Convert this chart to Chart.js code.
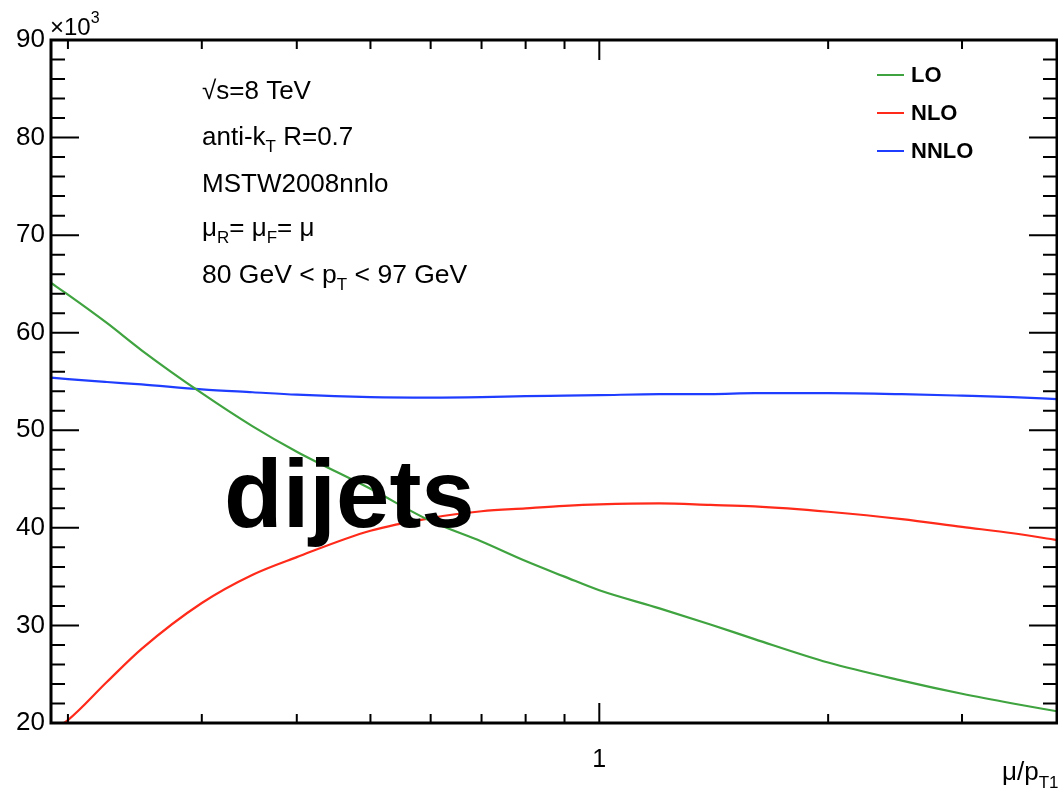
<!DOCTYPE html>
<html>
<head>
<meta charset="utf-8">
<script src="https://cdn.jsdelivr.net/npm/chart.js@4.4.1/dist/chart.umd.min.js"></script>
<style>
  html, body { margin: 0; padding: 0; background: #fff; }
  #wrap { width: 1058px; height: 790px; }
</style>
</head>
<body>
<div id="wrap"><canvas id="scaleChart"></canvas></div>
<script>
// mu / pT1 sample points (log axis)
const muValues   = [0.19, 0.2, 0.225, 0.25, 0.3, 0.35, 0.4, 0.5, 0.6, 0.7, 0.8, 0.9, 1.0, 1.2, 1.4, 1.6, 2.0, 2.5, 3.0, 3.5, 4.0];
// cross sections, in units of 10^3
const loValues   = [65.1, 63.9, 61.0, 58.2, 53.8, 50.4, 47.8, 44.0, 40.7, 38.6, 36.6, 35.0, 33.6, 31.75, 30.1, 28.6, 26.2, 24.35, 23.0, 22.0, 21.2];
const nloValues  = [19.2, 20.3, 24.2, 27.6, 32.3, 35.2, 37.0, 39.7, 41.0, 41.7, 42.0, 42.25, 42.4, 42.5, 42.35, 42.2, 41.65, 40.9, 40.1, 39.45, 38.75];
const nnloValues = [55.4, 55.25, 54.95, 54.7, 54.2, 53.9, 53.65, 53.4, 53.35, 53.4, 53.5, 53.55, 53.6, 53.7, 53.7, 53.8, 53.8, 53.7, 53.55, 53.4, 53.2];

const seriesNames  = ['LO', 'NLO', 'NNLO'];
const seriesColors = ['#3fa33f', '#ff2a1a', '#1f3dff'];

const xTickValues = [0.2, 0.3, 0.4, 0.5, 0.6, 0.7, 0.8, 0.9, 1, 2, 3];
const yMin = 20, yMax = 90;

const FONT = "'Liberation Sans', Arial, Helvetica, sans-serif";

const toPoints = vals => muValues.map((m, i) => ({ x: m, y: vals[i] }));

// draws a line of text made of runs: [text, size, baseline shift]
function drawRuns(ctx, x, y, runs, weight) {
    runs.forEach(([txt, size, dy]) => {
        ctx.font = (weight || '') + ' ' + size + 'px ' + FONT;
        ctx.fillText(txt, x, y + (dy || 0));
        x += ctx.measureText(txt).width;
    });
}

const rootFrame = {
    id: 'rootFrame',
    afterDatasetsDraw(chart) {
        const { ctx, chartArea: a, scales: { x, y } } = chart;
        ctx.save();
        ctx.strokeStyle = '#000';
        ctx.lineWidth = 2;
        ctx.beginPath();
        y.ticks.forEach(t => {
            const py = y.getPixelForValue(t.value);
            const len = t.value % 10 === 0 ? 28 : 14;
            ctx.moveTo(a.left, py); ctx.lineTo(a.left + len, py);
            ctx.moveTo(a.right, py); ctx.lineTo(a.right - len, py);
        });
        x.ticks.forEach(t => {
            const px = x.getPixelForValue(t.value);
            const len = t.value === 1 ? 20 : 9;
            ctx.moveTo(px, a.bottom); ctx.lineTo(px, a.bottom - len);
            ctx.moveTo(px, a.top); ctx.lineTo(px, a.top + len);
        });
        ctx.stroke();
        ctx.lineWidth = 3;
        ctx.strokeRect(a.left, a.top, a.right - a.left, a.bottom - a.top);

        ctx.fillStyle = '#000';
        ctx.textBaseline = 'alphabetic';
        ctx.textAlign = 'left';

        // exponent
        drawRuns(ctx, 50, 35, [['\u00d710', 24, 0], ['3', 16, -12]]);

        // info text
        const tx = 202;
        drawRuns(ctx, tx, 99,  [['\u221as=8 TeV', 26, 0]]);
        drawRuns(ctx, tx, 145, [['anti-k', 26, 0], ['T', 17, 7], [' R=0.7', 26, 0]]);
        drawRuns(ctx, tx, 192, [['MSTW2008nnlo', 26, 0]]);
        drawRuns(ctx, tx, 236, [['\u03bc', 26, 0], ['R', 17, 7], ['= \u03bc', 26, 0], ['F', 17, 7], ['= \u03bc', 26, 0]]);
        drawRuns(ctx, tx, 283, [['80 GeV < p', 26.5, 0], ['T', 17, 7], [' < 97 GeV', 26.5, 0]]);

        // legend
        const legY = [75, 113, 151];
        chart.data.datasets.forEach((ds, i) => {
            ctx.strokeStyle = ds.borderColor;
            ctx.lineWidth = 2;
            ctx.beginPath();
            ctx.moveTo(877, legY[i]); ctx.lineTo(904, legY[i]);
            ctx.stroke();
            ctx.textBaseline = 'middle';
            drawRuns(ctx, 911, legY[i] + 1, [[ds.label, 22, 0]], 'bold');
        });

        // axis title
        ctx.textBaseline = 'alphabetic';
        drawRuns(ctx, 1002, 780, [['\u03bc/p', 26, 0], ['T1', 17, 8]]);

        // big label
        drawRuns(ctx, 224, 527, [['dijets', 96, 0]], 'bold');
        ctx.restore();
    }
};

new Chart(document.getElementById('scaleChart'), {
    type: 'line',
    data: {
        datasets: [loValues, nloValues, nnloValues].map((vals, i) => ({
            label: seriesNames[i],
            data: toPoints(vals),
            borderColor: seriesColors[i],
            borderWidth: 2.2,
            pointRadius: 0,
            cubicInterpolationMode: 'monotone',
            fill: false
        }))
    },
    options: {
        responsive: true,
        maintainAspectRatio: false,
        animation: false,
        layout: { padding: { left: 0, right: 1, top: 40, bottom: 0 } },
        plugins: { legend: { display: false }, tooltip: { enabled: false } },
        scales: {
            x: {
                type: 'logarithmic',
                min: 0.19,
                max: 4,
                grid: { display: false, drawTicks: false },
                border: { display: false },
                afterBuildTicks: s => { s.ticks = xTickValues.map(v => ({ value: v })); },
                afterFit: s => { s.height = 67; },
                ticks: {
                    autoSkip: false,
                    maxRotation: 0,
                    padding: 22,
                    color: '#000',
                    font: { family: FONT, size: 25 },
                    callback: v => (v === 1 ? '1' : '')
                }
            },
            y: {
                min: yMin,
                max: yMax,
                grid: { display: false, drawTicks: false },
                border: { display: false },
                afterFit: s => { s.width = 51; },
                ticks: {
                    stepSize: 2,
                    autoSkip: false,
                    padding: 6,
                    color: '#000',
                    font: { family: FONT, size: 26 },
                    callback: v => (v % 10 === 0 ? v : '')
                }
            }
        }
    },
    plugins: [rootFrame]
});
</script>
</body>
</html>
